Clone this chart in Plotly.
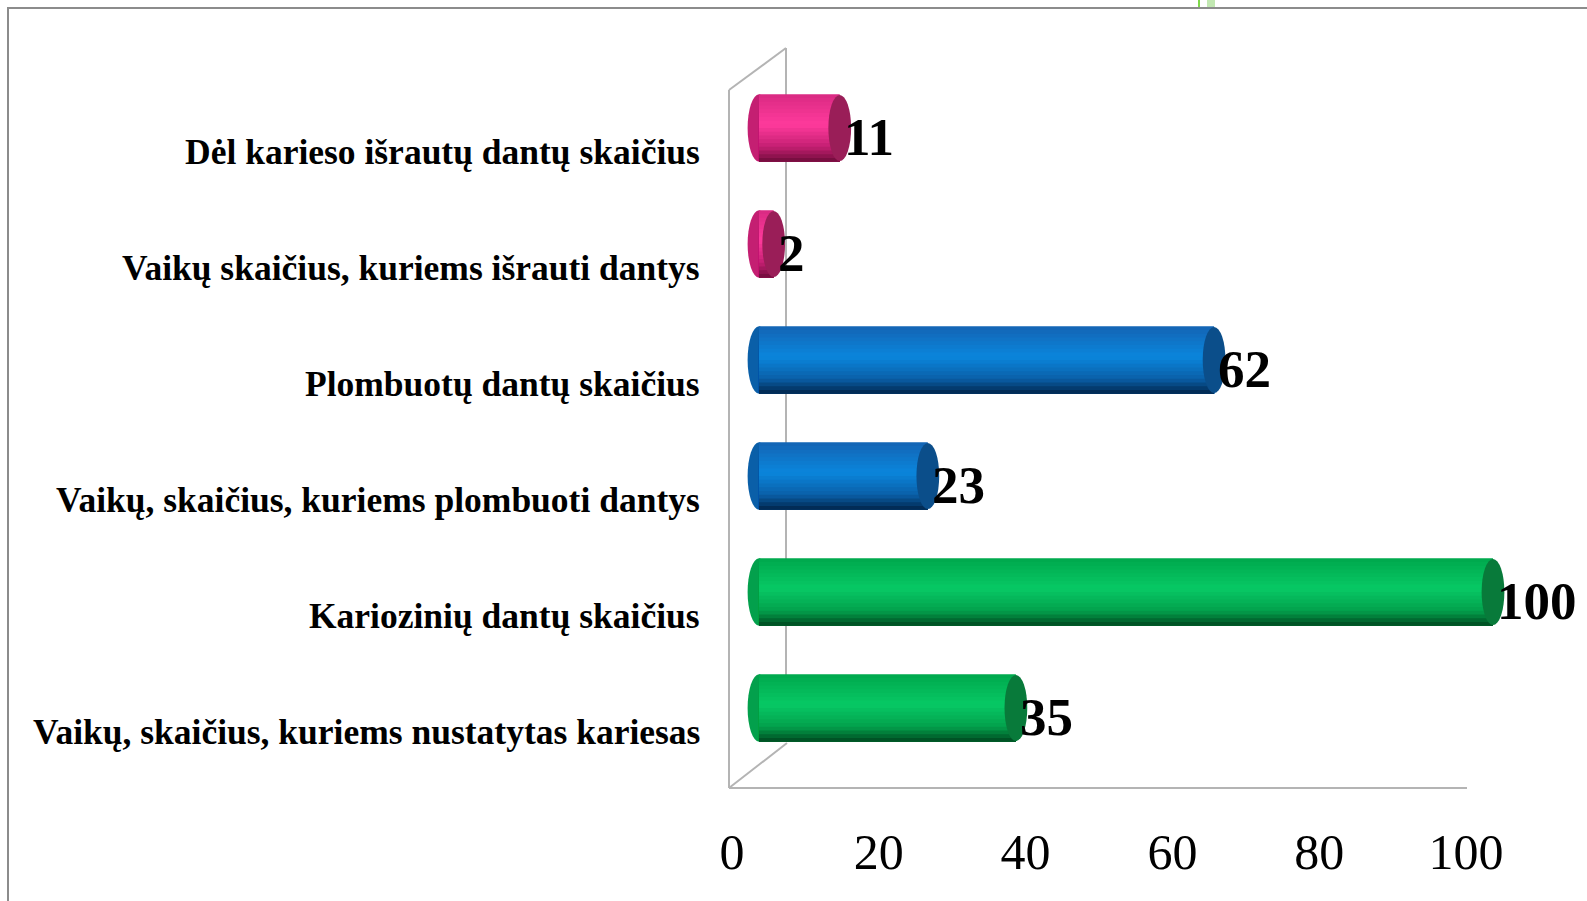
import plotly.graph_objects as go

# ---------------- data ----------------
categories = [
    "Dėl karieso išrautų dantų skaičius",
    "Vaikų skaičius, kuriems išrauti dantys",
    "Plombuotų dantų skaičius",
    "Vaikų, skaičius, kuriems plombuoti dantys",
    "Kariozinių dantų skaičius",
    "Vaikų, skaičius, kuriems nustatytas kariesas",
]
values = [11, 2, 62, 23, 100, 35]
x_ticks = [0, 20, 40, 60, 80, 100]

# ---------------- style ----------------
W, H = 1587, 901
FONT = "Liberation Serif, Times New Roman, serif"
palettes = {
    "pink":  {"top": "#d92a82", "bright": "#ff3a9c", "mid": "#c41f72", "dark": "#6e0c3a", "face": "#9a1e58"},
    "blue":  {"top": "#1464b4", "bright": "#0a86dc", "mid": "#0a5fa8", "dark": "#01254a", "face": "#0b4e8a"},
    "green": {"top": "#00a84c", "bright": "#07c965", "mid": "#03a04c", "dark": "#00481f", "face": "#087a3a"},
}
bar_palette = ["pink", "pink", "blue", "blue", "green", "green"]


def hex2rgb(h):
    h = h.lstrip("#")
    return tuple(int(h[i:i + 2], 16) for i in (0, 2, 4))


def lerp(c1, c2, t):
    a, b = hex2rgb(c1), hex2rgb(c2)
    return "rgb(%d,%d,%d)" % tuple(round(a[i] + (b[i] - a[i]) * t) for i in range(3))


def grad(p, t):
    stops = [(0.0, p["top"]), (0.45, p["bright"]), (0.78, p["mid"]), (1.0, p["dark"])]
    for (t0, c0), (t1, c1) in zip(stops[:-1], stops[1:]):
        if t <= t1:
            return lerp(c0, c1, (t - t0) / (t1 - t0))
    return stops[-1][1]


def px_x(p):
    return p / W


def px_y(p):
    return 1 - p / H


BAR_H = 0.58          # bar thickness in category units
N_STRIPS = 18
CAP_R = 1.55          # end-cap radius in value units

fig = go.Figure()

dh = BAR_H / N_STRIPS
for k in range(N_STRIPS):
    t = (k + 0.5) / N_STRIPS
    fig.add_trace(go.Bar(
        x=values,
        y=categories,
        orientation="h",
        width=[BAR_H - k * dh] * len(values),
        offset=[-BAR_H / 2 + k * dh] * len(values),
        marker=dict(color=[grad(palettes[g], t) for g in bar_palette], line=dict(width=0)),
        hoverinfo="skip",
        showlegend=False,
    ))

shapes = []
for i, (c, v) in enumerate(zip(categories, values)):
    p = palettes[bar_palette[i]]
    shapes.append(dict(type="circle", xref="x", yref="y", layer="below",
                       x0=-CAP_R, x1=CAP_R, y0=i - BAR_H / 2, y1=i + BAR_H / 2,
                       fillcolor=p["mid"], line=dict(width=0)))
    shapes.append(dict(type="circle", xref="x", yref="y", layer="above",
                       x0=v - CAP_R, x1=v + CAP_R, y0=i - BAR_H / 2 + 0.005, y1=i + BAR_H / 2 - 0.005,
                       fillcolor=p["face"], line=dict(width=0)))

wall = "#b4b4b4"
for (x0, y0, x1, y1) in [
    (729, 90, 729, 788),
    (786, 48, 786, 742),
    (729, 90, 786, 48),
    (729, 788, 787, 743),
    (729, 788, 1467, 788),
]:
    shapes.append(dict(type="line", xref="paper", yref="paper", layer="below",
                       x0=px_x(x0), y0=px_y(y0), x1=px_x(x1), y1=px_y(y1),
                       line=dict(color=wall, width=2)))

shapes.append(dict(type="rect", xref="paper", yref="paper", layer="below",
                   x0=px_x(8), x1=1.02, y0=-0.02, y1=px_y(8),
                   line=dict(color="#8c8c8c", width=2), fillcolor="rgba(0,0,0,0)"))
shapes.append(dict(type="rect", xref="paper", yref="paper", x0=px_x(1198), x1=px_x(1200),
                   y0=px_y(7), y1=1, line=dict(width=0), fillcolor="#7fd94a"))
shapes.append(dict(type="rect", xref="paper", yref="paper", x0=px_x(1207), x1=px_x(1215),
                   y0=px_y(7), y1=1, line=dict(width=0), fillcolor="#c2e8b2"))

annotations = []
for c, v in zip(categories, values):
    annotations.append(dict(x=v, y=c, xref="x", yref="y", text="<b>%d</b>" % v,
                            showarrow=False, xanchor="left", yanchor="middle",
                            xshift=2, yshift=-9,
                            font=dict(family=FONT, size=53, color="black")))
    annotations.append(dict(x=px_x(702), y=c, xref="paper", yref="y", text="<b>%s</b>" % c,
                            showarrow=False, xanchor="right", yanchor="middle",
                            yshift=-24,
                            font=dict(family=FONT, size=35.5, color="black")))

x_rng = [-3, 110]
x0_px, scale = 759, 7.34
x_dom = [px_x(x0_px + x_rng[0] * scale), px_x(x0_px + x_rng[1] * scale)]
y_top_px, y_step = 128, 116
y_dom = [px_y(y_top_px + 5.5 * y_step), px_y(y_top_px - 0.5 * y_step)]

fig.update_layout(
    width=W, height=H,
    margin=dict(l=0, r=0, t=0, b=0, pad=0),
    paper_bgcolor="white",
    plot_bgcolor="rgba(0,0,0,0)",
    barmode="overlay",
    showlegend=False,
    shapes=shapes,
    annotations=annotations,
    xaxis=dict(domain=x_dom, range=x_rng, tickvals=x_ticks, ticktext=[str(t) for t in x_ticks],
               automargin=False,
               showgrid=False, zeroline=False, showline=False, ticks="",
               ticklabelshift=-27, ticklabelstandoff=52,
               tickfont=dict(family=FONT, size=50, color="black")),
    yaxis=dict(domain=y_dom, type="category", categoryarray=categories,
               automargin=False,
               range=[5.5, -0.5], showticklabels=False, showgrid=False,
               zeroline=False, showline=False, ticks=""),
)

fig.write_html(
    "out.html",
    config={"displayModeBar": False, "responsive": False},
    post_script="document.body.style.margin='0';document.body.style.overflow='hidden';"
                "document.documentElement.style.overflow='hidden';",
)
